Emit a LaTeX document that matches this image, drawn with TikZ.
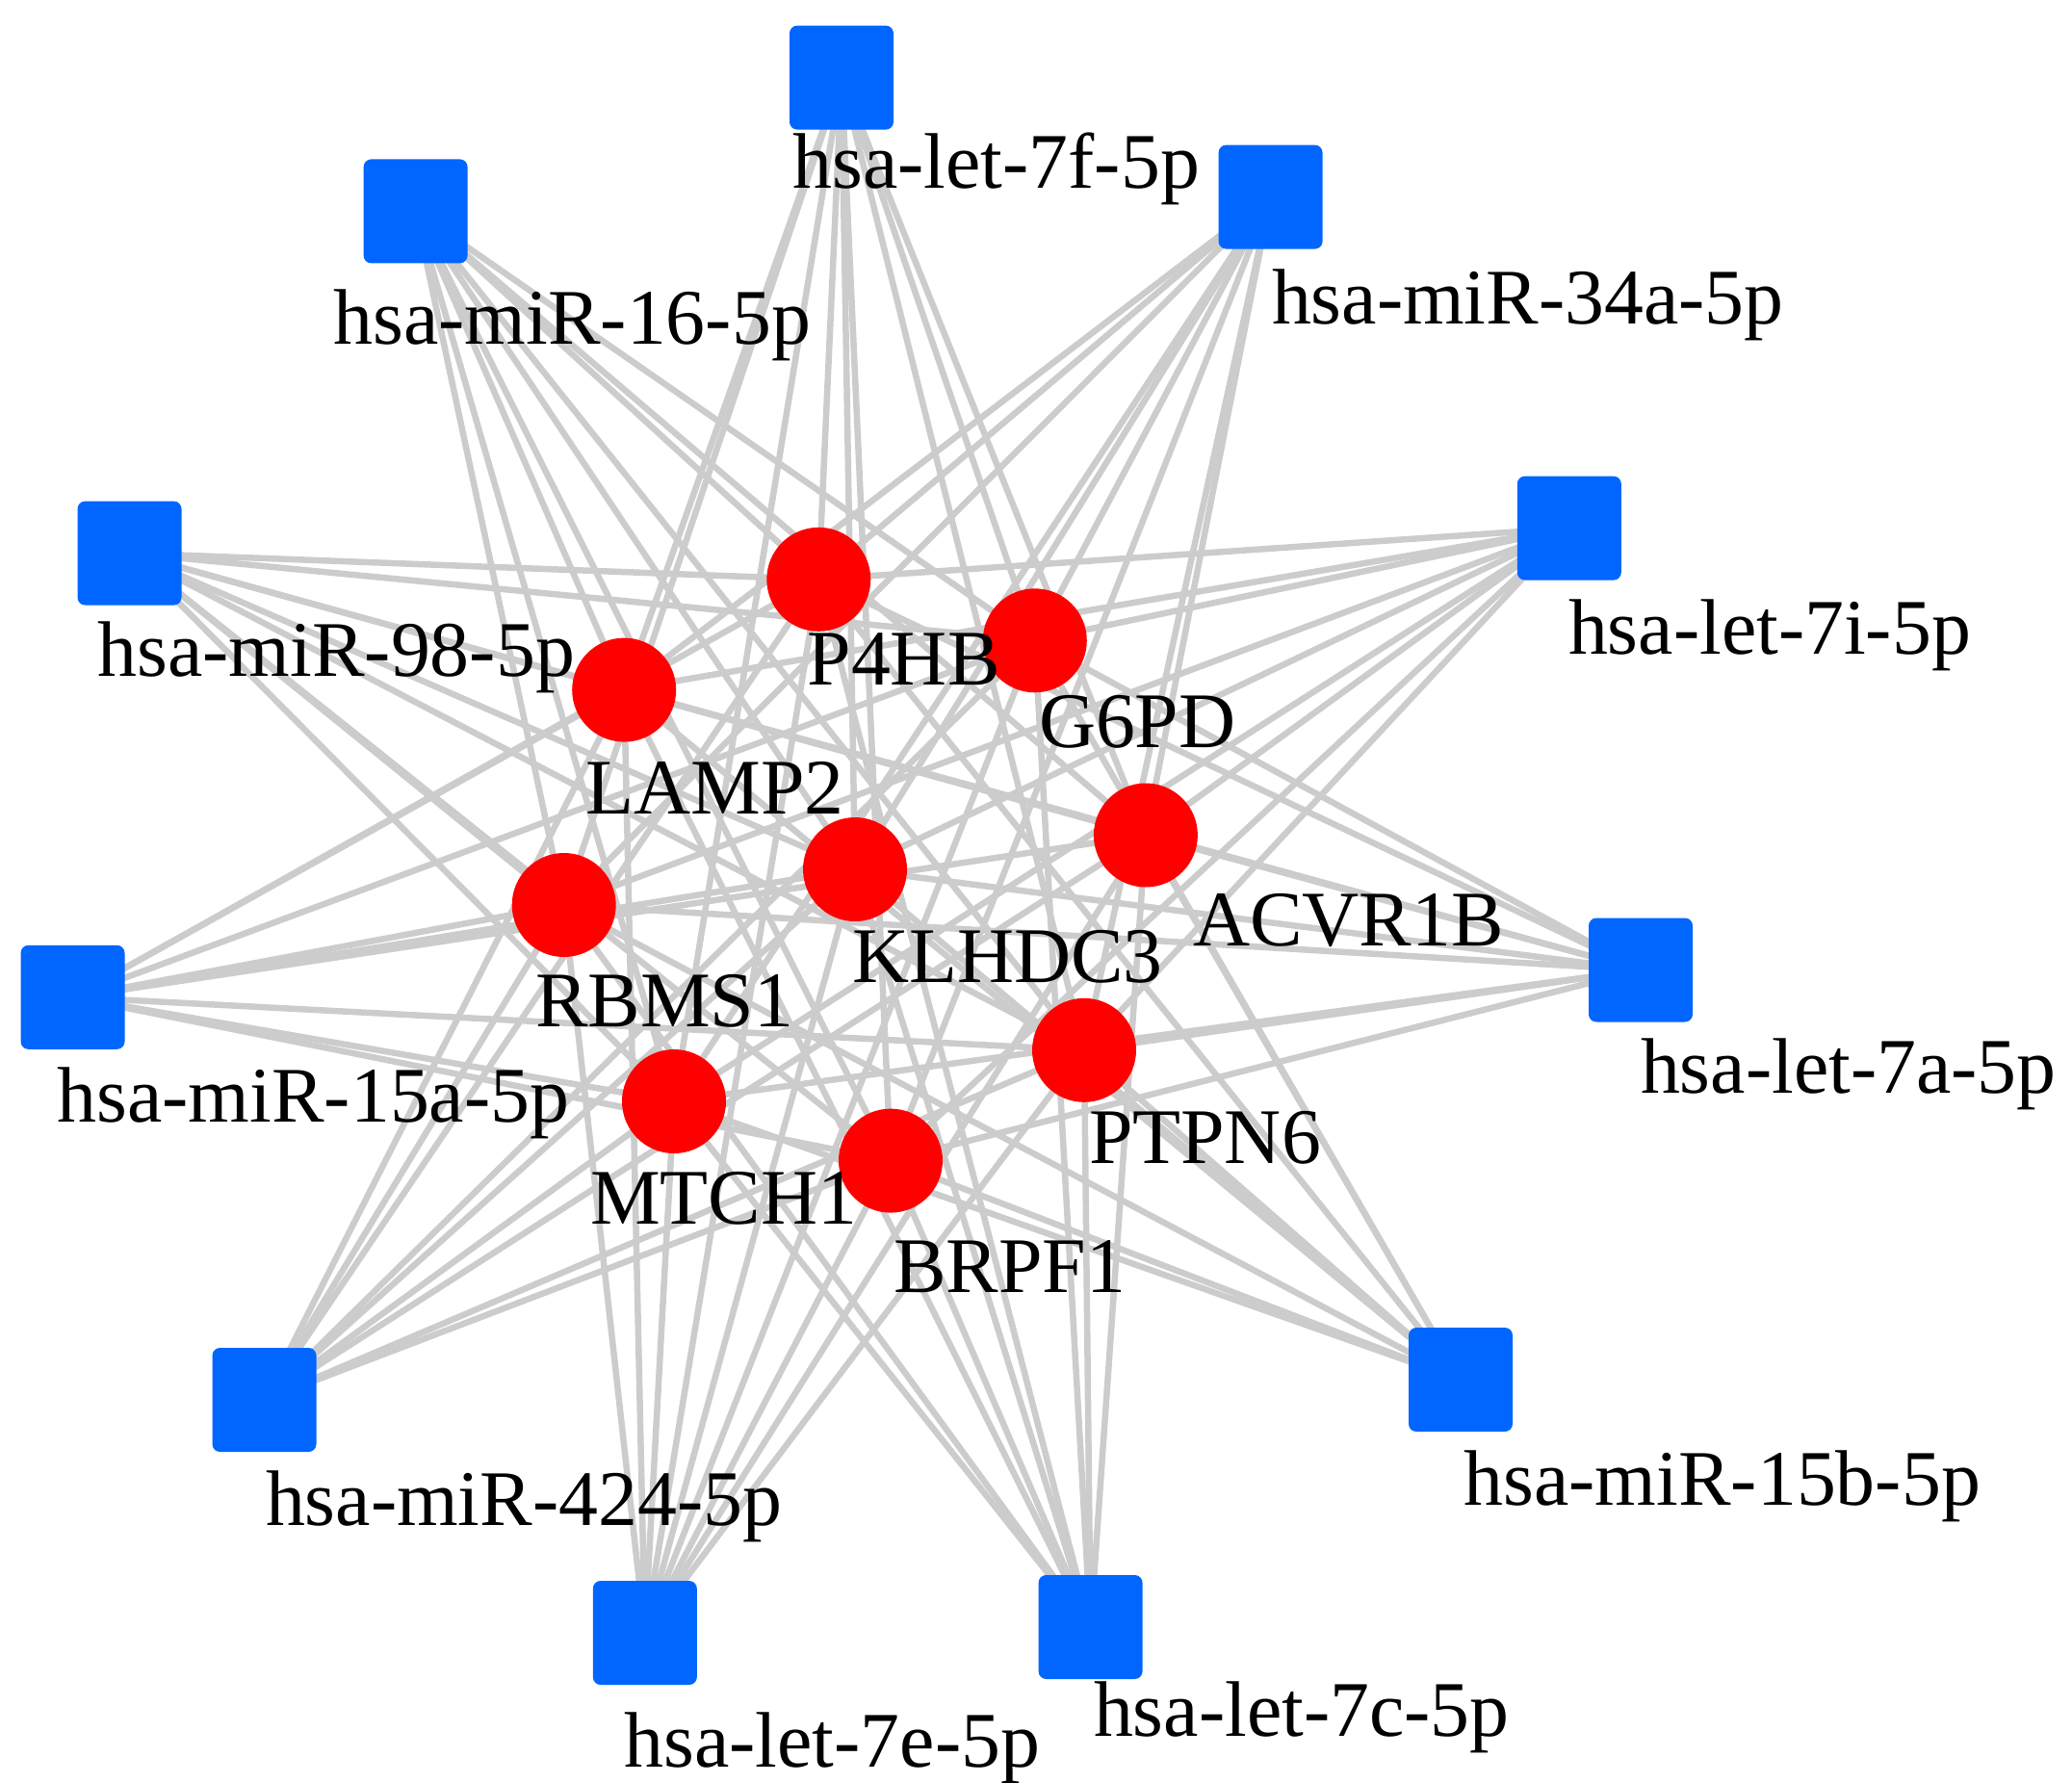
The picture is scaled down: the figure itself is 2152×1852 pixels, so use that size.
\documentclass[tikz,border=0pt]{standalone}
\usepackage{fontspec}
\setmainfont{Liberation Serif}
\usetikzlibrary{backgrounds}
\definecolor{edgegray}{RGB}{204,204,204}
\definecolor{mirblue}{RGB}{0,102,255}
\definecolor{genered}{RGB}{255,0,0}
\tikzset{
  mirna/.style={rectangle, rounded corners=8pt, fill=mirblue, draw=none, minimum size=108pt, inner sep=0pt},
  gene/.style={circle, fill=genered, draw=none, minimum size=108pt, inner sep=0pt},
  lab/.style={anchor=base west, inner sep=0pt, outer sep=0pt, font=\fontsize{81.8}{98}\selectfont, text=black},
  edge/.style={draw=edgegray, line width=6.5pt}
}
\begin{document}
\begin{tikzpicture}[x=1pt,y=-1pt]
\useasboundingbox (0,0) rectangle (2152,1852);
% miRNA nodes
\node[mirna] (m1) at (874,80.6) {};
\node[mirna] (m2) at (1319.6,204.6) {};
\node[mirna] (m3) at (431.6,219.4) {};
\node[mirna] (m4) at (1629.8,548.6) {};
\node[mirna] (m5) at (134.5,574.6) {};
\node[mirna] (m6) at (1704,1007.5) {};
\node[mirna] (m7) at (75.5,1035.8) {};
\node[mirna] (m8) at (1517,1433) {};
\node[mirna] (m9) at (274.5,1454) {};
\node[mirna] (m10) at (669.8,1696) {};
\node[mirna] (m11) at (1132.6,1690) {};
% gene nodes
\node[gene] (g1) at (850.3,601.8) {};
\node[gene] (g2) at (1074.8,665.3) {};
\node[gene] (g3) at (648.2,716.6) {};
\node[gene] (g4) at (1189.9,867.5) {};
\node[gene] (g5) at (888,903) {};
\node[gene] (g6) at (585.7,940) {};
\node[gene] (g7) at (1126,1090.8) {};
\node[gene] (g8) at (700,1144) {};
\node[gene] (g9) at (925,1205.6) {};
% edges
\begin{scope}[on background layer]
\foreach \m in {m1,m2,m3,m4,m5,m6,m7,m8,m9,m10,m11}{
  \foreach \g in {g1,g2,g3,g4,g5,g6,g7,g8,g9}{
    \draw[edge] (\m.center) -- (\g.center);
  }
}
\end{scope}
% labels
\node[lab] (l1) at (823.5,195) {hsa-let-7f-5p};
\node[lab] (l2) at (1321,336.6) {hsa-miR-34a-5p};
\node[lab] (l3) at (346.6,357.3) {hsa-miR-16-5p};
\node[lab] (l4) at (1629,679) {hsa-let-7i-5p};
\node[lab] (l5) at (101.6,702.8) {hsa-miR-98-5p};
\node[lab] (l6) at (1704,1135.6) {hsa-let-7a-5p};
\node[lab] (l7) at (59.7,1165) {hsa-miR-15a-5p};
\node[lab] (l8) at (1520.7,1563.8) {hsa-miR-15b-5p};
\node[lab] (l9) at (276,1584.5) {hsa-miR-424-5p};
\node[lab] (l10) at (648.5,1835.5) {hsa-let-7e-5p};
\node[lab] (l11) at (1136,1803) {hsa-let-7c-5p};
\node[lab] (k1) at (838.6,711.6) {P4HB};
\node[lab] (k2) at (1079,776.6) {G6PD};
\node[lab] (k3) at (608.7,845.7) {LAMP2};
\node[lab] (k4) at (1239,982) {ACVR1B};
\node[lab] (k5) at (885,1020.5) {KLHDC3};
\node[lab] (k6) at (556,1066) {RBMS1};
\node[lab] (k7) at (1131,1208) {PTPN6};
\node[lab] (k8) at (613,1271.5) {MTCH1};
\node[lab] (k9) at (928,1342) {BRPF1};
\end{tikzpicture}
\end{document}
